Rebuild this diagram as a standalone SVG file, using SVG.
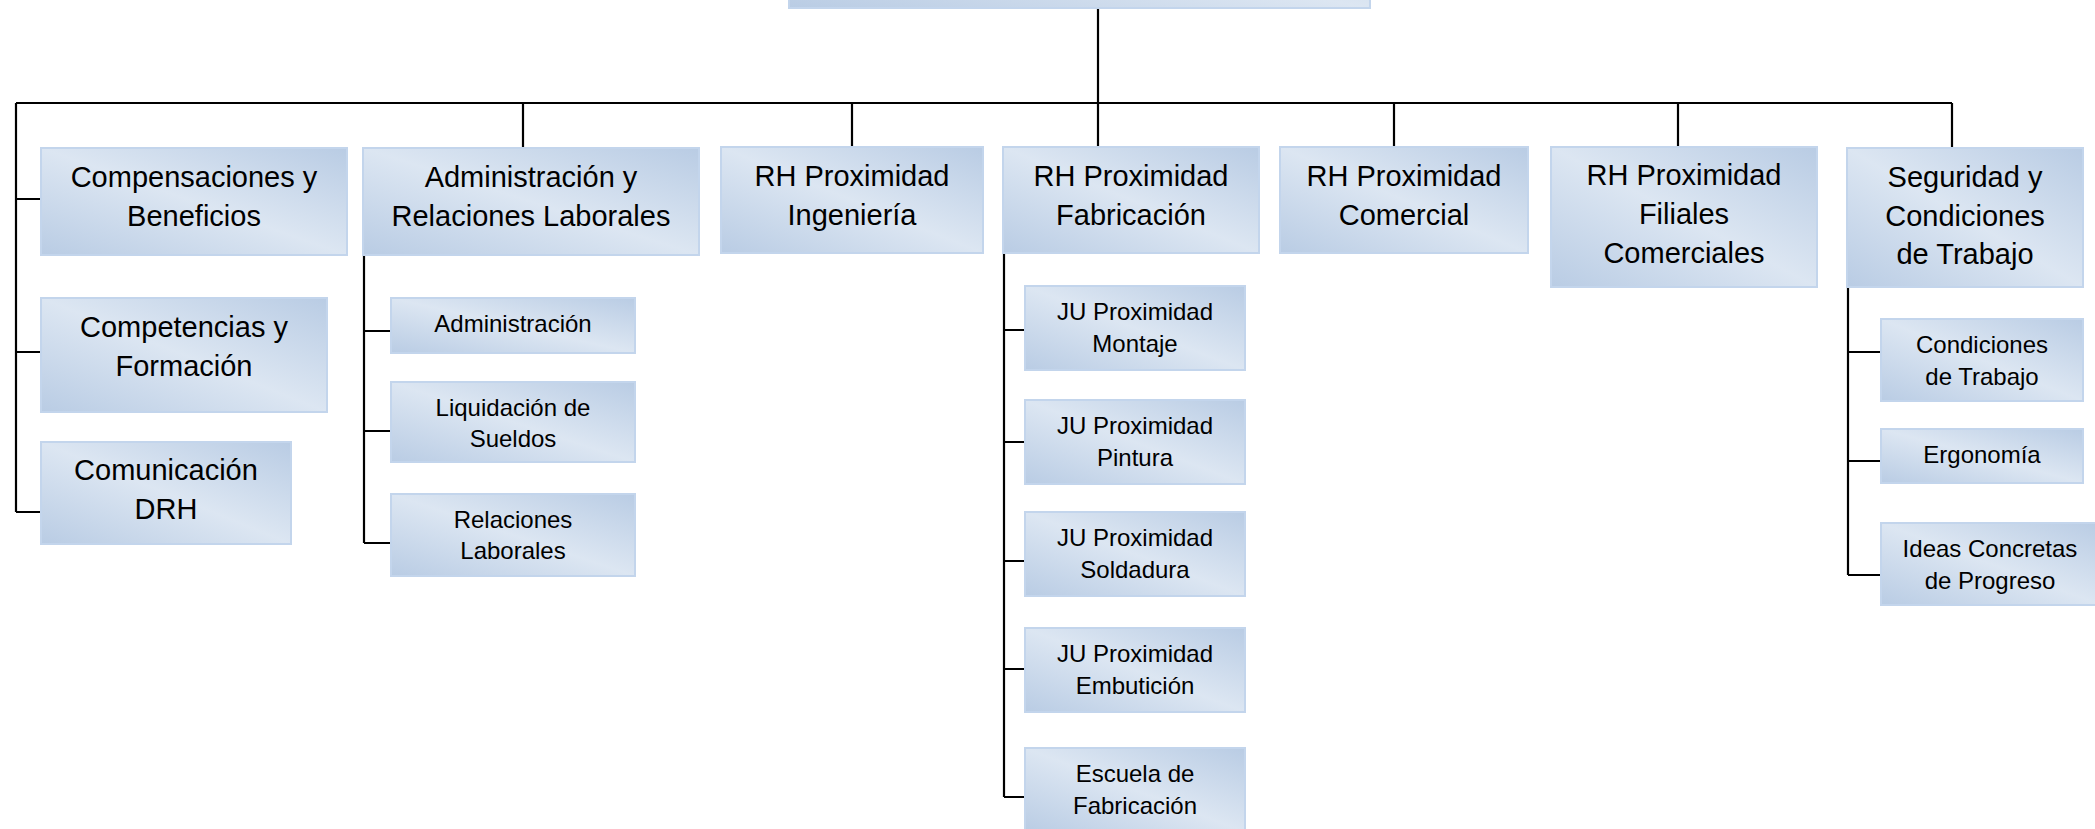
<svg xmlns="http://www.w3.org/2000/svg" width="2095" height="829" viewBox="0 0 2095 829">
<defs>
<linearGradient id="fill" x1="1" y1="0" x2="0" y2="1">
<stop offset="0" stop-color="#b9cce4"/>
<stop offset="0.5" stop-color="#dce6f2"/>
<stop offset="1" stop-color="#b9cce4"/>
</linearGradient>
</defs>
<style>
.box{fill:url(#fill);stroke:#c3d5ec;stroke-width:2}
.lg{font-family:"Liberation Sans",Arial,sans-serif;font-size:29px;fill:#000;text-anchor:middle}
.sm{font-family:"Liberation Sans",Arial,sans-serif;font-size:24px;fill:#000;text-anchor:middle}
.c{stroke:#000;stroke-width:2.2;fill:none}
</style>
<rect width="2095" height="829" fill="#fff"/>
<g id="connectors">
<path class="c" d="M1098 8V103"/>
<path class="c" d="M16 103H1952"/>
<path class="c" d="M16 103V512"/>
<path class="c" d="M16 199H41M16 352H41M16 512H41"/>
<path class="c" d="M523 103V148M852 103V147M1098 103V147M1394 103V147M1678 103V147M1952 103V148"/>
<path class="c" d="M364 255V543M364 331H391M364 431H391M364 543H391"/>
<path class="c" d="M1004 253V797M1004 330H1025M1004 442H1025M1004 561H1025M1004 669H1025M1004 797H1025"/>
<path class="c" d="M1848 287V575M1848 352H1881M1848 461H1881M1848 575H1881"/>
</g>
<g id="root"><rect class="box" x="789" y="-100" width="581" height="108"/></g>
<g id="compensaciones"><rect class="box" x="41" y="148" width="306" height="107"/><text class="lg" x="194" y="187">Compensaciones y</text><text class="lg" x="194" y="226">Beneficios</text></g>
<g id="administracion-relaciones"><rect class="box" x="363" y="148" width="336" height="107"/><text class="lg" x="531" y="187">Administración y</text><text class="lg" x="531" y="226">Relaciones Laborales</text></g>
<g id="rh-ingenieria"><rect class="box" x="721" y="147" width="262" height="106"/><text class="lg" x="852" y="186">RH Proximidad</text><text class="lg" x="852" y="225">Ingeniería</text></g>
<g id="rh-fabricacion"><rect class="box" x="1003" y="147" width="256" height="106"/><text class="lg" x="1131" y="186">RH Proximidad</text><text class="lg" x="1131" y="225">Fabricación</text></g>
<g id="rh-comercial"><rect class="box" x="1280" y="147" width="248" height="106"/><text class="lg" x="1404" y="186">RH Proximidad</text><text class="lg" x="1404" y="225">Comercial</text></g>
<g id="rh-filiales"><rect class="box" x="1551" y="147" width="266" height="140"/><text class="lg" x="1684" y="185">RH Proximidad</text><text class="lg" x="1684" y="224">Filiales</text><text class="lg" x="1684" y="263">Comerciales</text></g>
<g id="seguridad"><rect class="box" x="1847" y="148" width="236" height="139"/><text class="lg" x="1965" y="187">Seguridad y</text><text class="lg" x="1965" y="226">Condiciones</text><text class="lg" x="1965" y="264">de Trabajo</text></g>
<g id="competencias"><rect class="box" x="41" y="298" width="286" height="114"/><text class="lg" x="184" y="337">Competencias y</text><text class="lg" x="184" y="376">Formación</text></g>
<g id="comunicacion"><rect class="box" x="41" y="442" width="250" height="102"/><text class="lg" x="166" y="480">Comunicación</text><text class="lg" x="166" y="519">DRH</text></g>
<g id="administracion"><rect class="box" x="391" y="298" width="244" height="55"/><text class="sm" x="513" y="332">Administración</text></g>
<g id="liquidacion"><rect class="box" x="391" y="382" width="244" height="80"/><text class="sm" x="513" y="416">Liquidación de</text><text class="sm" x="513" y="447">Sueldos</text></g>
<g id="relaciones"><rect class="box" x="391" y="494" width="244" height="82"/><text class="sm" x="513" y="528">Relaciones</text><text class="sm" x="513" y="559">Laborales</text></g>
<g id="ju-montaje"><rect class="box" x="1025" y="286" width="220" height="84"/><text class="sm" x="1135" y="320">JU Proximidad</text><text class="sm" x="1135" y="351.5">Montaje</text></g>
<g id="ju-pintura"><rect class="box" x="1025" y="400" width="220" height="84"/><text class="sm" x="1135" y="434">JU Proximidad</text><text class="sm" x="1135" y="465.5">Pintura</text></g>
<g id="ju-soldadura"><rect class="box" x="1025" y="512" width="220" height="84"/><text class="sm" x="1135" y="546">JU Proximidad</text><text class="sm" x="1135" y="577.5">Soldadura</text></g>
<g id="ju-embuticion"><rect class="box" x="1025" y="628" width="220" height="84"/><text class="sm" x="1135" y="662">JU Proximidad</text><text class="sm" x="1135" y="693.5">Embutición</text></g>
<g id="escuela"><rect class="box" x="1025" y="748" width="220" height="84"/><text class="sm" x="1135" y="782">Escuela de</text><text class="sm" x="1135" y="813.5">Fabricación</text></g>
<g id="condiciones"><rect class="box" x="1881" y="319" width="202" height="82"/><text class="sm" x="1982" y="353">Condiciones</text><text class="sm" x="1982" y="385">de Trabajo</text></g>
<g id="ergonomia"><rect class="box" x="1881" y="429" width="202" height="54"/><text class="sm" x="1982" y="463">Ergonomía</text></g>
<g id="ideas"><rect class="box" x="1881" y="523" width="220" height="82"/><text class="sm" x="1990" y="557">Ideas Concretas</text><text class="sm" x="1990" y="589">de Progreso</text></g>
</svg>
